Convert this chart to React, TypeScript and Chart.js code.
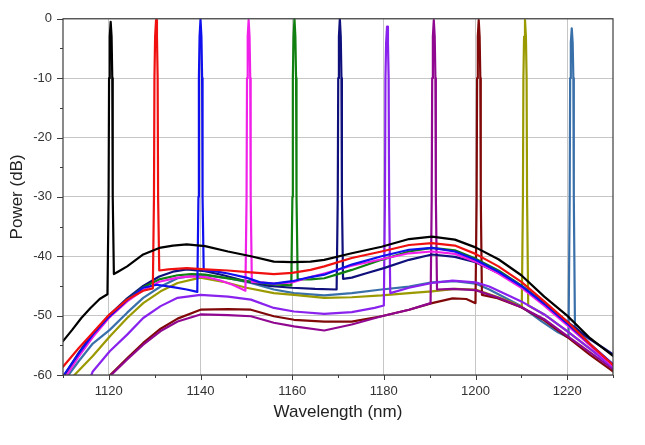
import React, { useEffect, useRef } from 'react';
import { Chart, registerables } from 'chart.js';

Chart.register(...registerables);

// ---- axis ranges & ticks ----
const xMin = 1110;
const xMax = 1230;
const yMin = -60;
const yMax = 0;
const xMajorTicks = [1120, 1140, 1160, 1180, 1200, 1220];
const yMajorTicks = [0, -10, -20, -30, -40, -50, -60];

// ---- series (wavelength nm, power dB) ----
const seriesNames = ['1120', '1130', '1140', '1150', '1160', '1170', '1180', '1190', '1200', '1210', '1220'];
const seriesColors = ['#000000', '#f01010', '#1010ee', '#f020e8', '#108010', '#10107c', '#8a22ee', '#900890', '#800808', '#9a9a00', '#3a70aa'];

const s1120 = [
  [1110, -54.3], [1112, -52.4], [1114, -50.4], [1116, -48.7], [1118, -47.2], [1119.7, -46.4],
  [1119.95, -30], [1120.05, -10], [1120.2, -3], [1120.4, -0.5], [1120.6, -3], [1120.75, -10], [1120.85, -30], [1121.1, -43.0],
  [1122, -42.6], [1124, -41.7], [1127.5, -39.7], [1131, -38.6], [1134, -38.2], [1137, -38.0],
  [1141, -38.3], [1146, -39.2], [1151, -40.0], [1156, -40.9], [1160, -41.0], [1164, -40.9],
  [1167, -40.6], [1173, -39.5], [1179.5, -38.4], [1185.5, -37.1], [1190.5, -36.7], [1195.5, -37.2],
  [1200, -38.5], [1205, -40.5], [1210, -43.2], [1215, -46.8], [1220, -50.0], [1225, -53.8], [1230, -56.8],
];
const s1130 = [
  [1110, -58.6], [1113.5, -55.4], [1116.5, -52.9], [1120, -49.9], [1124, -47.3], [1127.5, -45.8],
  [1129.6, -45.4], [1129.85, -30], [1129.95, -10], [1130.1, -3], [1130.3, -0.2], [1130.5, -3], [1130.65, -10], [1130.75, -30],
  [1131.0, -42.4], [1133, -42.2], [1137, -42.0], [1141, -42.2], [1146, -42.4], [1151, -42.7],
  [1156, -43.0], [1160, -42.8], [1164, -42.3], [1167, -41.7], [1173, -40.3], [1179.5, -39.2],
  [1185.5, -38.1], [1190.5, -37.8], [1195.5, -38.2], [1200, -39.6], [1205, -41.7], [1210, -44.3],
  [1215, -47.6], [1220, -51.0], [1225, -54.8], [1230, -58.3],
];
const s1140 = [
  [1110.2, -60], [1113.5, -56.3], [1116.5, -53.2], [1120, -50.2], [1124, -47.4], [1127.5, -45.3],
  [1130.5, -44.8], [1134, -45.2], [1137, -45.6], [1139.3, -46.0], [1139.55, -30], [1139.65, -10], [1139.8, -3],
  [1140.0, -0.1], [1140.2, -3], [1140.35, -10], [1140.45, -30], [1140.7, -42.4], [1143, -42.5], [1146, -42.9],
  [1150, -43.6], [1153, -44.4], [1156, -44.6], [1160, -44.2], [1164, -43.5], [1167, -43.1],
  [1173, -41.4], [1179.5, -40.0], [1185.5, -38.9], [1190.5, -38.6], [1195.5, -39.2], [1200, -40.6],
  [1205, -42.6], [1210, -45.0], [1215, -48.0], [1220, -51.3], [1225, -54.8], [1230, -58.2],
];
const s1150 = [
  [1110.8, -60], [1113.5, -56.8], [1116.5, -53.6], [1120, -50.4], [1124, -47.6], [1127.5, -45.7],
  [1131, -44.3], [1135, -43.6], [1138, -43.4], [1141, -43.5], [1144, -44.0], [1147, -44.8],
  [1149.8, -45.8], [1150.05, -30], [1150.15, -10], [1150.3, -3], [1150.5, -0.2], [1150.7, -3], [1150.85, -10], [1150.95, -30],
  [1151.2, -44.3], [1153, -44.4], [1156, -44.6], [1160, -44.4], [1164, -43.5], [1167, -42.9],
  [1173, -41.6], [1179.5, -40.5], [1185.5, -39.5], [1190.5, -39.2], [1195.5, -39.6], [1200, -40.9],
  [1205, -42.9], [1210, -45.3], [1215, -48.3], [1220, -51.6], [1225, -55.0], [1230, -58.5],
];
const s1160 = [
  [1110.5, -60], [1113.5, -56.6], [1116.5, -53.4], [1120, -50.3], [1124, -47.3], [1127.5, -45.2],
  [1131, -43.9], [1135, -43.2], [1138, -43.0], [1141, -43.1], [1145, -43.6], [1150, -44.2],
  [1155, -44.7], [1159.8, -44.9], [1160.05, -30], [1160.15, -10], [1160.3, -3], [1160.5, 0], [1160.7, -3], [1160.85, -10],
  [1160.95, -30], [1161.2, -43.9], [1164, -43.9], [1167, -43.7], [1170, -43.0], [1173, -42.3],
  [1179.5, -40.6], [1185.5, -39.2], [1190.5, -38.6], [1195.5, -39.0], [1200, -40.4], [1205, -42.4],
  [1210, -44.9], [1215, -48.0], [1220, -51.4], [1225, -54.9], [1230, -58.3],
];
const s1170 = [
  [1110.3, -60], [1113.5, -56.2], [1116.5, -53.0], [1120, -50.0], [1124, -47.1], [1127.5, -45.0],
  [1131, -43.4], [1134, -42.6], [1137, -42.2], [1141, -42.5], [1145, -43.2], [1150, -44.2],
  [1155, -45.0], [1160, -45.3], [1165, -45.5], [1169.7, -45.6], [1169.95, -30], [1170.05, -10], [1170.2, -3],
  [1170.4, 0], [1170.6, -3], [1170.75, -10], [1170.85, -30], [1171.1, -43.8], [1173, -43.6], [1176, -42.9],
  [1180, -42.0], [1185.5, -40.6], [1190.5, -39.7], [1195.5, -40.1], [1200, -41.0], [1205, -42.8],
  [1210, -45.0], [1215, -47.9], [1220, -51.0], [1225, -54.0], [1228, -55.5], [1230, -56.5],
];
const s1180 = [
  [1116.2, -60], [1116.5, -59.4], [1120.2, -56.0], [1124, -53.2], [1127.5, -50.4], [1131.3, -48.4],
  [1135, -47.0], [1140, -46.5], [1146, -46.8], [1151, -47.3], [1156, -48.7], [1160.4, -49.3],
  [1167, -49.7], [1173, -49.4], [1178, -48.7], [1180.0, -48.3], [1180.25, -30], [1180.35, -10], [1180.5, -4],
  [1180.7, -1.3], [1180.9, -4], [1181.05, -10], [1181.15, -30], [1181.4, -46.2], [1185.5, -45.3], [1190.5, -44.5],
  [1195, -44.1], [1200, -44.4], [1203, -45.1], [1210, -47.6], [1215, -49.8], [1220, -52.6],
  [1225, -55.6], [1230, -58.7],
];
const s1190 = [
  [1120.5, -60], [1124, -57.4], [1127.5, -54.9], [1131.3, -52.6], [1135, -51.0], [1140, -49.8],
  [1146, -49.9], [1151, -50.1], [1156, -51.2], [1160.4, -51.8], [1167, -52.5], [1173, -51.5],
  [1179.5, -50.1], [1185.5, -49.0], [1190.2, -47.9], [1190.45, -30], [1190.55, -10], [1190.7, -3], [1190.9, -0.2],
  [1191.1, -3], [1191.25, -10], [1191.35, -30], [1191.6, -45.6], [1195, -45.5], [1200, -45.7], [1205, -47.0],
  [1210, -48.6], [1215, -50.6], [1220, -53.4], [1225, -56.2], [1230, -59.0],
];
const s1200 = [
  [1120.3, -60], [1124, -57.2], [1127.5, -54.6], [1131.3, -52.2], [1135, -50.5], [1140, -49.0],
  [1146, -48.9], [1151, -49.0], [1156, -50.1], [1160.4, -50.7], [1167, -51.0], [1173, -51.0],
  [1179.5, -50.1], [1185.5, -49.0], [1190.5, -47.9], [1195, -47.1], [1198, -47.2], [1200.0, -47.9],
  [1200.25, -30], [1200.35, -10], [1200.5, -3], [1200.7, -0.2], [1200.9, -3], [1201.05, -10], [1201.15, -30], [1201.4, -46.5],
  [1204.5, -47.0], [1210, -48.6], [1215, -50.8], [1220, -53.6], [1225, -56.6], [1230, -59.4],
];
const s1210 = [
  [1112.5, -60], [1116.5, -56.8], [1120.2, -53.5], [1124, -50.4], [1127.5, -47.9], [1131.3, -45.9],
  [1135, -44.5], [1140, -43.6], [1145, -44.3], [1150, -45.3], [1156, -46.2], [1160.4, -46.5],
  [1167, -47.0], [1173, -46.9], [1179.5, -46.6], [1185.5, -46.2], [1190.5, -45.9], [1195.5, -45.5],
  [1200, -45.6], [1204.5, -46.8], [1208, -47.8], [1210.1, -48.6], [1210.35, -30], [1210.45, -10], [1210.6, -3],
  [1210.8, -0.2], [1211.0, -3], [1211.15, -10], [1211.25, -30], [1211.5, -48.3], [1215, -49.8], [1220, -52.6],
  [1225, -55.6], [1230, -58.6],
];
const s1220 = [
  [1111.2, -60], [1113.5, -57.6], [1116.5, -54.7], [1120.2, -52.4], [1124, -49.5], [1127.5, -47.0],
  [1131.3, -45.1], [1135, -43.7], [1140, -43.1], [1146, -43.7], [1151, -44.5], [1156, -45.6],
  [1160.4, -46.2], [1167, -46.6], [1173, -46.2], [1179.5, -45.6], [1185.5, -45.1], [1190.5, -44.4],
  [1195.5, -44.2], [1200, -44.6], [1203, -45.6], [1209.5, -48.2], [1214.5, -51.0], [1218, -52.8],
  [1220.3, -53.7], [1220.55, -30], [1220.65, -10], [1220.8, -4], [1221.0, -1.6], [1221.2, -4], [1221.35, -10], [1221.45, -30],
  [1221.7, -51.8], [1225, -54.8], [1230, -59.0],
];

const allSeries = [s1120, s1130, s1140, s1150, s1160, s1170, s1180, s1190, s1200, s1210, s1220];

const FONT = 'Arial, "Liberation Sans", sans-serif';

export default function App() {
  const ref = useRef<HTMLCanvasElement | null>(null);

  useEffect(() => {
    if (!ref.current) return;

    const framePlugin = {
      id: 'frameTicks',
      afterDatasetsDraw(chart: any) {
        const { ctx, chartArea: a, scales } = chart;
        ctx.save();
        ctx.strokeStyle = '#3c3c3c';
        ctx.lineWidth = 1.2;
        ctx.strokeRect(a.left, a.top, a.right - a.left, a.bottom - a.top);
        ctx.lineWidth = 1;
        ctx.beginPath();
        for (const t of scales.x.ticks) {
          const v = Math.round(t.value);
          const px = Math.round(scales.x.getPixelForValue(v)) + 0.5;
          const len = xMajorTicks.includes(v) ? 5 : 3;
          ctx.moveTo(px, a.bottom);
          ctx.lineTo(px, a.bottom + len);
        }
        for (const t of scales.y.ticks) {
          const v = Math.round(t.value);
          const py = Math.round(scales.y.getPixelForValue(v)) + 0.5;
          const len = yMajorTicks.includes(v) ? 6 : 3;
          ctx.moveTo(a.left, py);
          ctx.lineTo(a.left - len, py);
        }
        ctx.stroke();
        ctx.restore();
      },
    };

    const chart = new Chart(ref.current, {
      type: 'line',
      data: {
        datasets: allSeries.map((s, i) => ({
          label: seriesNames[i],
          data: s.map(([x, y]) => ({ x, y })),
          borderColor: seriesColors[i],
          backgroundColor: seriesColors[i],
          borderWidth: 2.2,
          pointRadius: 0,
          tension: 0,
          borderJoinStyle: 'round' as const,
          borderCapStyle: 'round' as const,
          fill: false,
        })),
      },
      options: {
        animation: false,
        responsive: true,
        maintainAspectRatio: false,
        layout: { padding: { left: 0, right: 32, top: 18, bottom: 0 } },
        plugins: {
          legend: { display: false },
          tooltip: { enabled: false },
        },
        scales: {
          x: {
            type: 'linear',
            min: xMin,
            max: xMax,
            border: { display: false },
            grid: {
              drawTicks: false,
              lineWidth: 1,
              color: (c: any) =>
                c.tick && xMajorTicks.includes(Math.round(c.tick.value)) ? '#c6c6c6' : 'rgba(0,0,0,0)',
            },
            ticks: {
              stepSize: 10,
              autoSkip: false,
              maxRotation: 0,
              padding: 9,
              color: '#333333',
              font: { family: FONT, size: 13 },
              callback: (v: any) => (xMajorTicks.includes(Math.round(Number(v))) ? String(Math.round(Number(v))) : ''),
            },
            title: {
              display: true,
              text: 'Wavelength (nm)',
              color: '#222222',
              font: { family: FONT, size: 17 },
              padding: { top: 0, bottom: 22 },
            },
            afterFit: (s: any) => {
              s.height = 70;
            },
          },
          y: {
            type: 'linear',
            min: yMin,
            max: yMax,
            border: { display: false },
            grid: {
              drawTicks: false,
              lineWidth: 1,
              color: (c: any) =>
                c.tick && yMajorTicks.includes(Math.round(c.tick.value)) ? '#c6c6c6' : 'rgba(0,0,0,0)',
            },
            ticks: {
              stepSize: 5,
              autoSkip: false,
              padding: 11,
              color: '#333333',
              font: { family: FONT, size: 13 },
              callback: (v: any) => (yMajorTicks.includes(Math.round(Number(v))) ? String(Math.round(Number(v))) : ''),
            },
            title: {
              display: true,
              text: 'Power (dB)',
              color: '#222222',
              font: { family: FONT, size: 17 },
              padding: { top: 7, bottom: 0 },
            },
            afterFit: (s: any) => {
              s.width = 63;
            },
          },
        },
      },
      plugins: [framePlugin],
    } as any);

    return () => chart.destroy();
  }, []);

  return (
    <div style={{ position: 'fixed', left: 0, top: 0, width: 645, height: 445, background: '#ffffff' }}>
      <canvas ref={ref} />
    </div>
  );
}
